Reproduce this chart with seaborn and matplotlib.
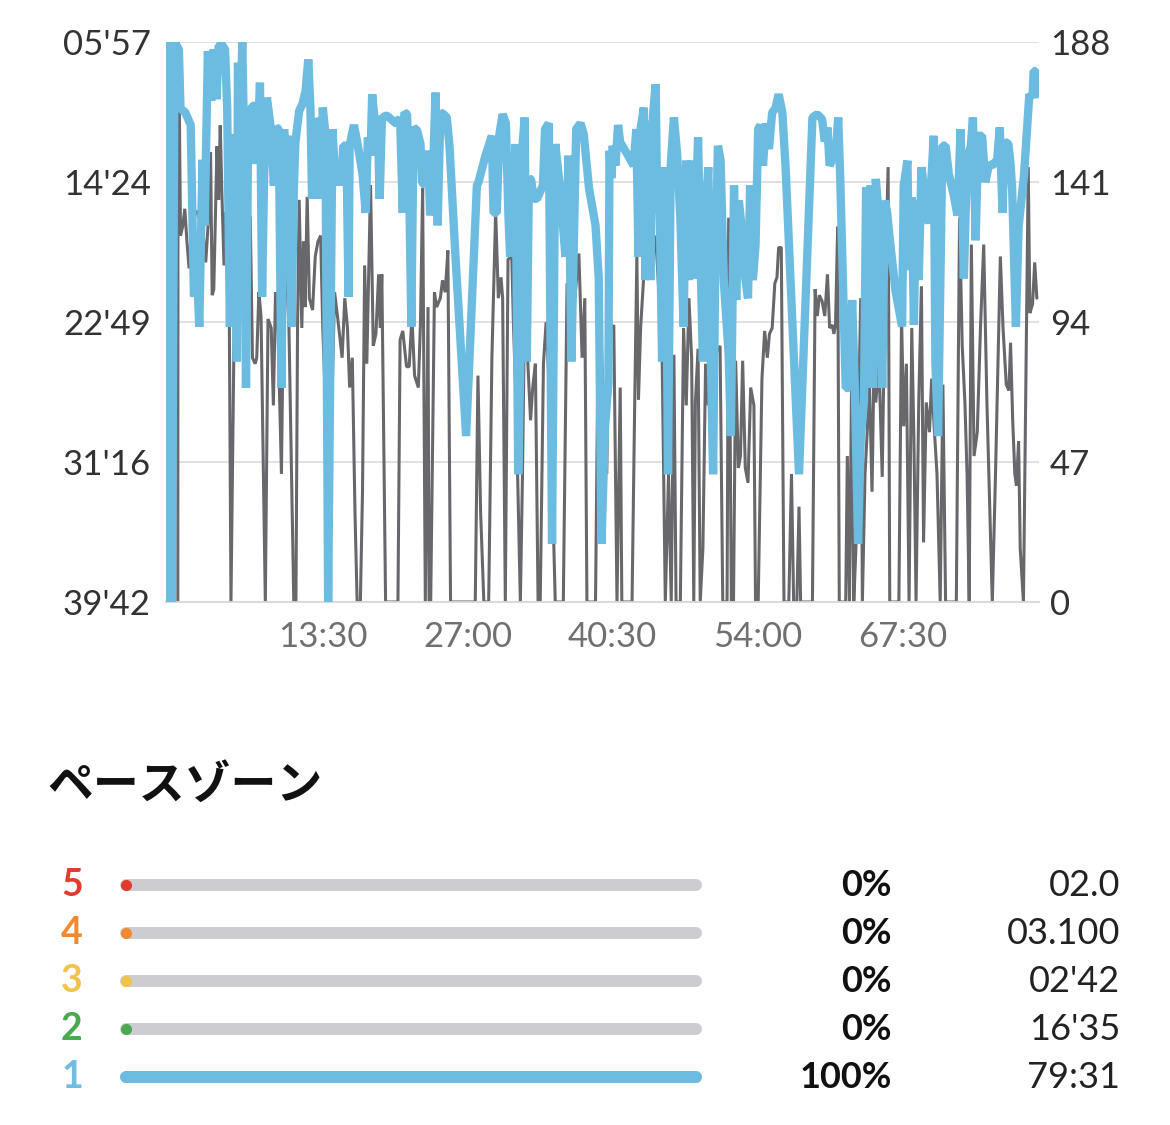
import matplotlib
matplotlib.use("Agg")
import matplotlib.pyplot as plt
import matplotlib.transforms as mtransforms
import pandas as pd
import seaborn as sns

# -----------------------------
# Data
# -----------------------------
# pace (min/km), blue line, left axis (inverted)
pace_t = [
    -0.85, -0.85, -0.55, -0.3, 0.1, 0.25, 0.7, 1.2, 1.3, 1.5, 1.8, 2.0, 2.3, 2.5, 2.8, 3.1, 3.35, 3.6, 3.8,
    4.1, 4.4, 4.6, 4.85, 5.1, 5.3, 5.5, 5.6, 5.8, 6.0, 6.15, 6.35, 6.55, 6.75, 6.9, 7.25, 7.4, 7.65, 7.85,
    8.1, 8.3, 8.65, 8.95, 9.15, 9.4, 9.65, 9.9, 10.1, 10.35, 10.6, 10.8, 10.95, 11.3, 11.6, 11.9, 12.15,
    12.35, 12.5, 12.75, 13.05, 13.3, 13.5, 13.75, 14.0, 14.4, 14.7, 15.0, 15.25, 15.4, 15.7, 15.9, 16.0,
    16.4, 16.7, 17.2, 17.5, 17.7, 17.95, 18.1, 18.4, 18.6, 18.8, 19.0, 19.3, 19.5,
    20.4, 20.7, 20.95, 21.1, 21.35, 21.55, 21.75, 21.95, 22.3, 22.6, 22.75, 23.05, 23.3, 23.5, 23.75,
    24.0, 24.2, 24.45, 24.75, 25.05, 25.3, 25.85, 26.85, 27.85, 28.0, 28.65, 29.25, 29.4, 29.7, 29.95,
    30.25, 30.55, 30.8, 30.95, 31.3, 31.45, 31.7, 31.9, 32.1, 32.3, 32.5, 32.7, 32.9, 33.15, 33.45,
    34.0, 34.2, 34.55, 34.85, 35.15, 35.6, 36.1, 36.4, 36.65, 36.85, 37.1, 37.5, 37.8, 38.3, 38.9,
    39.2, 39.45, 39.8, 40.1, 40.2, 40.4, 40.5, 40.75, 41.0, 41.2, 41.85, 42.45, 42.7, 42.9, 43.1, 43.4,
    43.55, 43.8, 44.0, 44.25, 44.5, 44.65, 44.85, 45.1, 45.25, 45.45, 45.65, 45.9, 46.2, 46.5, 46.8,
    47.1, 47.35, 47.6, 47.85, 48.05, 48.45, 48.65, 48.9, 49.15, 49.4, 49.6, 49.85, 50.05, 50.3, 50.55,
    50.85, 51.3, 51.5, 51.8, 52.0, 52.25, 52.5, 52.85, 53.1, 53.3, 53.55, 53.8, 54.05, 54.25, 54.5,
    54.75, 55.05, 55.35, 55.65, 55.95, 56.3, 56.6, 57.85, 59.1, 59.55, 60.0, 60.25, 60.5, 60.7, 60.95,
    61.25, 61.5, 61.7, 62.2, 62.5, 62.8, 63.05, 63.35, 63.6, 63.9, 64.1, 64.35, 64.5, 64.75, 65.0, 65.3,
    65.6, 65.85, 66.05, 66.4, 66.85, 67.45, 67.6, 67.95, 68.1, 68.35, 68.55, 68.75, 69.0, 69.25, 69.6,
    69.95, 70.4, 70.55, 70.8, 70.95, 71.2, 71.5, 71.8, 72.3, 72.6, 72.9, 73.2, 73.5, 73.85, 74.05, 74.3,
    74.55, 74.9, 75.2, 75.55, 75.85, 76.3, 76.55, 76.8, 77.0, 77.35, 77.55, 77.7, 78.05, 78.3, 78.8,
    79.3, 79.6, 79.7, 79.9, 80.0,
]
pace = [
    39.7, 5.95, 39.7, 5.95, 6.4, 9.96, 10.2, 10.95, 14.4, 21.3, 20.1, 23.1, 13.05, 17.0, 6.5, 9.5, 6.4, 9.4, 6.2,
    6.1, 6.4, 9.96, 23.1, 11.5, 13.9, 25.2, 7.2, 11.7, 5.95, 11.1, 26.8, 11.2, 13.3, 9.8, 9.8, 13.3, 8.4, 21.3,
    11.7, 9.3, 11.1, 14.6, 11.1, 11.2, 26.8, 11.2, 17.9, 11.6, 23.1, 14.8, 12.0, 10.1, 9.7, 8.9, 7.0,
    9.96, 15.4, 10.6, 10.95, 15.4, 9.9, 11.5, 39.7, 11.2, 14.6, 13.05, 14.6, 12.2, 12.2, 21.3, 12.2,
    10.95, 11.95, 13.9, 16.25, 11.7, 12.8, 9.1, 11.2, 10.4, 15.4, 10.6, 10.4, 10.4,
    10.9, 10.5, 16.25, 10.2, 10.3, 14.8, 23.1, 11.1, 11.3, 12.1, 14.4, 14.6, 12.5, 16.4, 14.2,
    9.0, 17.0, 10.2, 10.3, 10.5, 12.2, 18.8, 29.7, 14.6, 14.4, 12.8, 11.6, 16.25, 16.25, 11.5,
    10.3, 10.85, 16.6, 18.9, 14.25, 12.1, 32.0, 25.3, 12.2, 10.5, 25.2, 14.15, 14.25, 15.4, 15.4,
    14.6, 11.2, 10.85, 36.2, 12.1, 14.8, 18.9, 12.8, 25.2, 18.9, 11.2, 10.85, 11.5, 14.8, 17.0,
    20.2, 36.2, 29.0, 26.5, 12.5, 14.15, 12.2, 13.4, 10.95, 12.0, 12.7, 13.4, 11.2, 18.9, 11.2, 9.9,
    20.3, 10.7, 20.3, 10.4, 8.5, 16.25, 14.6, 25.2, 13.5, 15.7, 32.0, 13.4, 10.5, 12.7, 16.6,
    23.1, 13.1, 20.3, 13.1, 20.2, 11.7, 18.2, 25.2, 16.4, 13.5, 23.7, 32.0, 19.7, 12.2, 13.1,
    20.4, 24.8, 29.7, 14.6, 21.5, 15.5, 17.1, 20.2, 21.4, 14.6, 20.3, 18.2, 11.2, 10.95, 13.4,
    10.85, 12.4, 10.2, 9.95, 9.1, 10.2, 13.5, 32.0, 10.5, 10.3, 10.6, 11.95, 11.1, 13.4, 13.05,
    12.9, 10.5, 14.4, 26.8, 26.8, 21.5, 26.8, 36.2, 29.8, 27.6, 14.7, 26.8, 14.6, 26.8, 14.2, 16.6,
    26.8, 15.5, 16.2, 18.4, 21.0, 23.1, 14.6, 13.1, 19.7, 15.3, 23.0, 15.5, 20.3, 13.5, 15.3,
    16.9, 11.6, 25.2, 29.7, 23.2, 12.2, 12.2, 13.9, 15.3, 16.4, 11.2, 20.2, 13.05, 12.2, 10.5, 17.9,
    11.6, 11.6, 14.4, 13.3, 13.4, 13.05, 11.1, 16.25, 11.95, 12.1, 13.3, 14.8, 23.1, 17.1, 14.0,
    9.1, 9.3, 7.7, 7.7, 9.1,
]

# heart rate (bpm), grey line, right axis
hr_t = [
    0.0, 0.02, 0.15, 0.25, 0.45, 0.65, 0.85, 1.05, 1.2, 1.65, 1.9, 2.1, 2.25, 2.6, 2.9, 3.05, 3.2, 3.35,
    3.65, 3.8, 3.95, 4.1, 4.3, 4.45, 4.7, 4.8, 4.95, 5.25, 5.5, 5.7, 6.0, 6.3, 6.55, 6.75, 6.95, 7.2,
    7.35, 7.55, 7.75, 8.15, 8.4, 8.7, 8.9, 9.1, 9.3, 9.65, 9.85, 10.1, 10.35, 10.8, 11.0, 11.15, 11.3,
    11.55, 11.7, 11.85, 12.05, 12.25, 12.55, 12.8, 13.05, 13.3, 13.5, 13.75, 13.9, 14.3, 14.6, 14.9,
    15.3, 15.55, 15.8, 16.0, 16.25, 16.5, 16.7, 17.0, 17.2, 17.4, 17.6, 17.95, 18.2, 18.45, 18.7,
    18.85, 19.0, 19.35, 20.5, 20.7, 20.95, 21.3, 21.55, 21.8, 22.05, 22.4, 22.6, 22.8, 23.05, 23.3,
    23.4, 23.55, 23.9, 24.1, 24.45, 24.65, 24.9, 25.15, 25.4, 27.7, 27.95, 28.2, 28.5, 28.95, 29.25,
    29.6, 29.85, 30.1, 30.25, 30.5, 30.75, 31.1, 31.25, 31.5, 31.9, 32.1, 32.35, 32.6, 32.85, 33.05,
    33.3, 33.55, 33.75, 34.05, 34.3, 34.55, 34.85, 35.15, 35.9, 36.25, 36.55, 36.85, 37.35, 37.65,
    37.9, 38.1, 38.9, 39.1, 39.35, 39.65, 39.95, 40.1, 40.45, 40.6, 40.9, 41.2, 41.35, 42.3, 42.55,
    42.75, 42.9, 43.1, 43.4, 43.7, 44.0, 44.25, 44.5, 44.8, 45.1, 45.4, 45.7, 45.95, 46.2, 46.4, 46.8,
    47.1, 47.35, 47.6, 47.85, 48.05, 48.2, 48.45, 48.65, 48.9, 49.15, 49.4, 49.7, 49.9, 50.2, 50.5,
    50.75, 51.15, 51.3, 51.55, 51.75, 51.95, 52.2, 52.4, 52.6, 52.85, 53.1, 53.35, 53.65, 53.8, 54.05,
    54.4, 54.65, 54.9, 55.1, 55.35, 55.6, 55.8, 55.95, 56.2, 56.45, 56.9, 57.15, 57.35, 57.65, 57.85,
    58.0, 59.1, 59.35, 59.55, 59.75, 60.0, 60.25, 60.5, 60.7, 60.95, 61.1, 61.25, 61.45, 61.6, 62.2,
    62.35, 62.55, 62.75, 62.95, 63.15, 63.35, 63.6, 63.75, 64.0, 64.2, 64.4, 64.65, 64.8, 65.0, 65.3,
    65.6, 65.85, 66.15, 66.3, 67.15, 67.4, 67.6, 67.85, 68.1, 68.35, 68.55, 68.75, 69.0, 69.25, 69.45,
    69.7, 70.0, 70.2, 70.4, 70.7, 71.0, 71.25, 71.5, 72.5, 72.8, 73.05, 73.3, 73.5, 73.7, 73.9, 74.15,
    74.45, 74.75, 75.05, 75.35, 75.85, 76.15, 76.6, 76.85, 77.15, 77.4, 77.55, 77.75, 77.95, 78.1,
    78.3, 78.45, 78.75, 79.2, 79.35, 79.6, 79.8, 80.0,
]
hr = [
    0, 188, 163, 123, 126, 132, 121, 112, 121, 131, 131, 126, 128, 114, 131, 151, 103, 105,
    153, 135, 160, 138, 113, 131, 110, 92, 0, 94, 131, 118, 126, 113, 131, 129, 82, 80,
    82, 104, 96, 0, 95, 92, 66, 104, 96, 43, 104, 112, 92, 0, 0, 92, 135,
    92, 121, 99, 136, 102, 98, 116, 121, 123, 92, 67, 80, 60, 104, 95,
    82, 102, 92, 72, 82, 30, 0, 0, 37, 113, 80, 140, 86, 90, 110,
    92, 110, 0, 0, 88, 91, 79, 79, 96, 76, 72, 94, 139, 0, 99,
    0, 0, 104, 99, 102, 108, 104, 118, 0, 0, 76, 30, 0, 0, 82,
    131, 102, 109, 102, 0, 115, 116, 94, 67, 0, 43, 114, 80, 61, 72,
    80, 0, 0, 80, 94, 75, 43, 0, 0, 107, 102, 97, 117, 82,
    102, 0, 0, 73, 94, 67, 43, 92, 92, 93, 0, 72, 0, 0, 67,
    116, 68, 92, 110, 123, 117, 116, 123, 104, 83, 0, 43, 0, 83, 0, 0,
    92, 66, 102, 82, 0, 67, 85, 0, 18, 80, 66, 84, 81, 84, 86,
    0, 0, 129, 0, 0, 81, 45, 49, 81, 45, 40, 72, 66, 0, 0,
    75, 91, 82, 90, 92, 107, 109, 119, 119, 0, 0, 43, 0, 0, 32,
    0, 0, 105, 96, 103, 101, 96, 110, 92, 93, 90, 93, 126, 0, 0,
    49, 0, 75, 0, 18, 55, 102, 0, 43, 57, 75, 37, 72, 67, 80,
    42, 104, 146, 0, 0, 96, 59, 80, 0, 92, 55, 0, 67, 106, 20,
    67, 57, 75, 61, 43, 0, 73, 0, 0, 129, 86, 67, 43, 0, 120, 49,
    57, 92, 120, 67, 0, 43, 116, 92, 73, 71, 87, 61, 43, 39,
    54, 18, 0, 146, 97, 100, 114, 102,
]

pace_ticks = [5.95, 14.4, 22.8167, 31.2667, 39.7]
pace_labels = ["05'57", "14'24", "22'49", "31'16", "39'42"]
hr_ticks = [0, 47, 94, 141, 188]
time_ticks = [0, 13.5, 27, 40.5, 54, 67.5, 80.2]
time_labels = ["", "13:30", "27:00", "40:30", "54:00", "67:30", ""]

zone_ids = ["5", "4", "3", "2", "1"]
zone_pct = [0, 0, 0, 0, 100]
zone_pct_labels = ["0%", "0%", "0%", "0%", "100%"]
zone_times = ["02.0", "03.100", "02'42", "16'35", "79:31"]
zone_colors = ["#e23b2e", "#ef8a33", "#f3c24b", "#4aa84e", "#73bde3"]

BLUE = "#6cbbe0"
GREY = "#68686c"

sns.set_style("white")
plt.rcParams["font.family"] = ["Lato", "Noto Sans CJK JP", "DejaVu Sans"]

pace_df = pd.DataFrame({"t": pace_t, "pace": pace})
hr_df = pd.DataFrame({"t": hr_t, "hr": hr})

fig = plt.figure(figsize=(11.7, 11.25), dpi=100)

# -----------------------------
# Pace / heart rate chart
# -----------------------------
ax = fig.add_axes([166 / 1170, 1 - 602 / 1125, 873 / 1170, 560 / 1125])
ax2 = ax.twinx()

sns.lineplot(data=hr_df, x="t", y="hr", ax=ax, estimator=None, sort=False,
             color=GREY, lw=2.2, solid_joinstyle="bevel")
sns.lineplot(data=pace_df, x="t", y="pace", ax=ax2, estimator=None, sort=False,
             color=BLUE, lw=6.0, solid_joinstyle="bevel")

ax.set_xlim(-1.1, 80.2)
ax.set_ylim(0, 188)
ax2.set_ylim(39.7, 5.95)

for a in (ax, ax2):
    a.set_xlabel("")
    a.set_ylabel("")
    for s in a.spines.values():
        s.set_visible(False)

ax.spines["bottom"].set_visible(True)
ax.spines["bottom"].set_color("#d9d9d9")
ax.spines["bottom"].set_linewidth(1.3)

ax.yaxis.tick_right()
ax2.yaxis.tick_left()
ax.set_yticks(hr_ticks, [str(v) for v in hr_ticks])
ax2.set_yticks(pace_ticks, pace_labels)
ax.set_xticks(time_ticks, time_labels)

ax.set_axisbelow(True)
ax.yaxis.grid(True, color="#dcdcdc", lw=1.2)

ax.tick_params(axis="y", length=0, pad=8, labelsize=25, labelcolor="#333333")
ax2.tick_params(axis="y", length=0, pad=11, labelsize=25, labelcolor="#333333")
ax.tick_params(axis="x", length=11, width=1.2, color="#707070", pad=3,
               labelsize=25, labelcolor="#707070")

# -----------------------------
# Pace zones
# -----------------------------
fig.text(47 / 1170, 1 - 786 / 1125, "ペースゾーン", fontsize=33, fontweight="bold",
         family=["Noto Sans CJK JP", "DejaVu Sans"], va="center", ha="left", color="#111111")

zax = fig.add_axes([126 / 1170, 24 / 1125, 570 / 1170, 240 / 1125])
zax.set_xlim(0, 100)
zax.set_ylim(4.5, -0.5)
zax.axis("off")
trans = mtransforms.blended_transform_factory(fig.transFigure, zax.transData)

for i, (zid, p, plab, ztime, col) in enumerate(zip(zone_ids, zone_pct, zone_pct_labels,
                                                    zone_times, zone_colors)):
    zax.plot([0, 100], [i, i], color="#cdcdd1", lw=8.6, solid_capstyle="round", clip_on=False)
    if p > 0:
        zax.plot([0, p], [i, i], color=BLUE, lw=8.6, solid_capstyle="round", clip_on=False)
    else:
        zax.plot([0], [i], "o", ms=8, color=col, mec="none", clip_on=False)
    zax.text(72 / 1170, i, zid, transform=trans, ha="center", va="center",
             fontsize=27, fontweight="bold", color=col)
    zax.text(892 / 1170, i, plab, transform=trans, ha="right", va="center",
             fontsize=26, fontweight="bold", color="#111111")
    zax.text(1120 / 1170, i, ztime, transform=trans, ha="right", va="center",
             fontsize=26, color="#222222")

fig.savefig("out.png", dpi=100)
